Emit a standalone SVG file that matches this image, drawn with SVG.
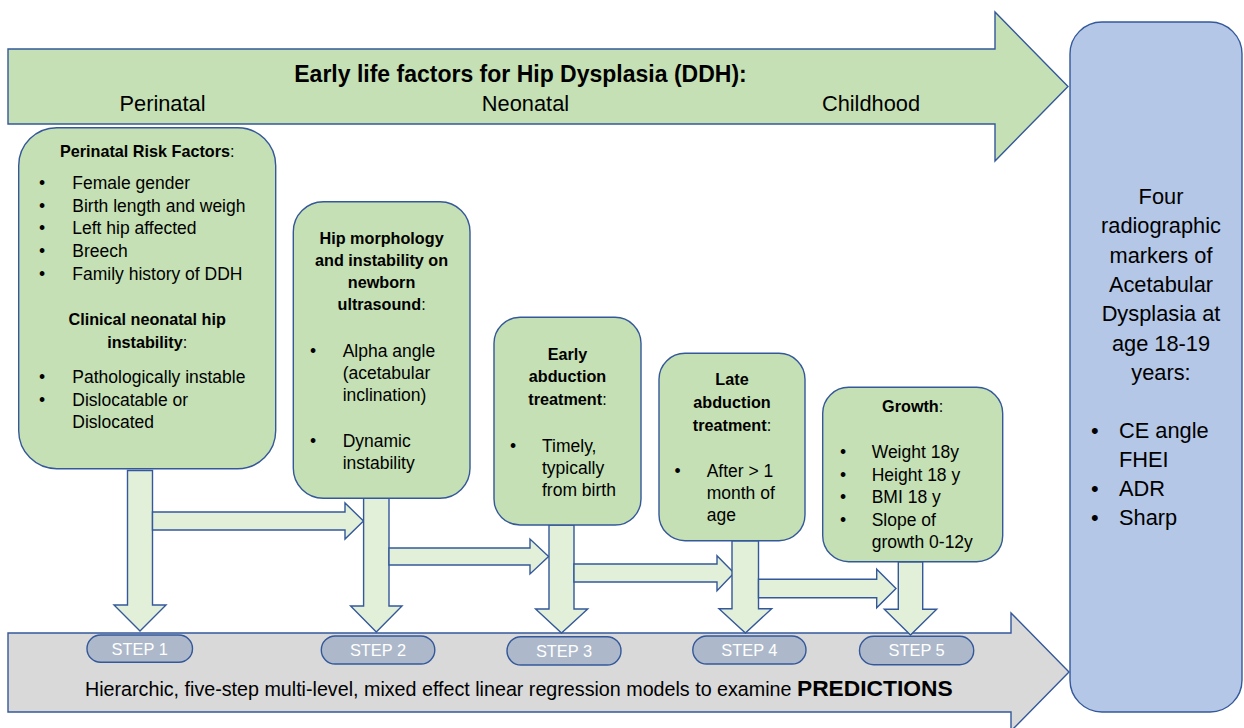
<svg xmlns="http://www.w3.org/2000/svg" width="1244" height="728" viewBox="0 0 1244 728">
<style>
  text { font-family: "Liberation Sans", Arial, sans-serif; fill: #000; }
  .box { fill: #C5E0B4; stroke: #34589A; stroke-width: 1.4; }
  .conn { fill: #E2F0D9; stroke: #34589A; stroke-width: 1.4; stroke-linejoin: miter; }
  .pill { fill: #ADB9CA; stroke: #34589A; stroke-width: 1.4; }
  .steptxt { font-size: 16.4px; fill: #FFFFFF; text-anchor: middle; }
  .hd { font-size: 16.2px; font-weight: bold; text-anchor: middle; }
  .reg { font-weight: normal; }
  .bt { font-size: 17.5px; }
  .sub { font-size: 21.8px; text-anchor: middle; }
  .rb { font-size: 21.8px; }
</style>

<g id="timeline-arrow">
  <polygon points="8,49 995,49 995,12 1068,86.5 995,161 995,124 8,124" fill="#C5E0B4" stroke="#34589A" stroke-width="1.4"/>
  <text x="520.5" y="82" font-size="23px" font-weight="bold" text-anchor="middle">Early life factors for Hip Dysplasia (DDH):</text>
  <text class="sub" x="162.5" y="111">Perinatal</text>
  <text class="sub" x="525.5" y="111">Neonatal</text>
  <text class="sub" x="871" y="111">Childhood</text>
</g>

<g id="predictions-arrow">
  <polygon points="8,633 1011,633 1011,613 1069,672 1011,731 1011,712 8,712" fill="#D9D9D9" stroke="#34589A" stroke-width="1.4"/>
  <text x="85" y="696" font-size="19.7px">Hierarchic, five-step multi-level, mixed effect linear regression models to examine <tspan font-weight="bold" font-size="22.8px">PREDICTIONS</tspan></text>
</g>

<g id="outcome">
  <rect x="1070" y="22" width="172" height="690" rx="32" ry="32" fill="#B4C7E7" stroke="#34589A" stroke-width="1.4"/>
  <g class="rb" text-anchor="middle">
    <text class="rb" x="1161" y="204" text-anchor="middle">Four</text>
    <text class="rb" x="1161" y="233.3" text-anchor="middle">radiographic</text>
    <text class="rb" x="1161" y="262.6" text-anchor="middle">markers of</text>
    <text class="rb" x="1161" y="291.9" text-anchor="middle">Acetabular</text>
    <text class="rb" x="1161" y="321.2" text-anchor="middle">Dysplasia at</text>
    <text class="rb" x="1161" y="350.5" text-anchor="middle">age 18-19</text>
    <text class="rb" x="1161" y="379.8" text-anchor="middle">years:</text>
  </g>
  <text class="rb" x="1091" y="438">•</text>
  <text class="rb" x="1119" y="438">CE angle</text>
  <text class="rb" x="1119" y="467">FHEI</text>
  <text class="rb" x="1091" y="496">•</text>
  <text class="rb" x="1119" y="496">ADR</text>
  <text class="rb" x="1091" y="525">•</text>
  <text class="rb" x="1119" y="525">Sharp</text>
</g>

<g id="connectors">
  <polygon class="conn" points="127.5,470.5 152.5,470.5 152.5,605 166,605 140,631 114,605 127.5,605"/>
  <polygon class="conn" points="152.5,512 345,512 345,503 363.5,521 345,539 345,530 152.5,530"/>
  <polygon class="conn" points="363.6,498 389,498 389,606 402,606 376.3,632 350.6,606 363.6,606"/>
  <polygon class="conn" points="389,548 530,548 530,539 548.6,556.5 530,574 530,565 389,565"/>
  <polygon class="conn" points="549,525 574,525 574,609 587.7,609 561.5,633 535.6,609 549,609"/>
  <polygon class="conn" points="574,564 717,564 717,555.7 734,573 717,590.7 717,582 574,582"/>
  <polygon class="conn" points="732,540.7 758.5,540.7 758.5,608.7 771.7,608.7 745.4,633 719,608.7 732,608.7"/>
  <polygon class="conn" points="758.5,579.3 876.7,579.3 876.7,569.3 896,588.5 876.7,607.7 876.7,597.7 758.5,597.7"/>
  <polygon class="conn" points="898.3,561.7 922.7,561.7 922.7,609.3 936.7,609.3 910.5,635 884.3,609.3 898.3,609.3"/>
</g>

<g id="perinatal">
  <rect class="box" x="18.7" y="127.7" width="257" height="341" rx="38" ry="38"/>
  <text class="hd" x="147.2" y="157">Perinatal Risk Factors<tspan class="reg">:</tspan></text>
  <g class="bt">
    <text class="bt" x="39" y="189">•</text><text class="bt" x="72.3" y="189">Female gender</text>
    <text class="bt" x="39" y="211.7">•</text><text class="bt" x="72.3" y="211.7">Birth length and weigh</text>
    <text class="bt" x="39" y="234.3">•</text><text class="bt" x="72.3" y="234.3">Left hip affected</text>
    <text class="bt" x="39" y="257">•</text><text class="bt" x="72.3" y="257">Breech</text>
    <text class="bt" x="39" y="279.7">•</text><text class="bt" x="72.3" y="279.7">Family history of DDH</text>
  </g>
  <text class="hd" x="147.2" y="325">Clinical neonatal hip</text>
  <text class="hd" x="147.2" y="347.7">instability<tspan class="reg">:</tspan></text>
  <text class="bt" x="39" y="383.3">•</text><text class="bt" x="72.3" y="383.3">Pathologically instable</text>
  <text class="bt" x="39" y="405.7">•</text><text class="bt" x="72.3" y="405.7">Dislocatable or</text>
  <text class="bt" x="72.3" y="428.3">Dislocated</text>
</g>

<g id="ultrasound">
  <rect class="box" x="293.3" y="201.7" width="176.7" height="296.6" rx="30" ry="30"/>
  <text class="hd" x="381.6" y="244">Hip morphology</text>
  <text class="hd" x="381.6" y="266">and instability on</text>
  <text class="hd" x="381.6" y="288">newborn</text>
  <text class="hd" x="381.6" y="310">ultrasound<tspan class="reg">:</tspan></text>
  <text class="bt" x="310" y="356.7">•</text><text class="bt" x="342.7" y="356.7">Alpha angle</text>
  <text class="bt" x="342.7" y="379">(acetabular</text>
  <text class="bt" x="342.7" y="401">inclination)</text>
  <text class="bt" x="310" y="447.3">•</text><text class="bt" x="342.7" y="447.3">Dynamic</text>
  <text class="bt" x="342.7" y="469.3">instability</text>
</g>

<g id="early-treatment">
  <rect class="box" x="494" y="317.3" width="147" height="207.7" rx="26" ry="26"/>
  <text class="hd" x="567.5" y="360">Early</text>
  <text class="hd" x="567.5" y="382.3">abduction</text>
  <text class="hd" x="567.5" y="405">treatment<tspan class="reg">:</tspan></text>
  <text class="bt" x="510" y="451.7">•</text><text class="bt" x="542" y="451.7">Timely,</text>
  <text class="bt" x="542" y="473.5">typically</text>
  <text class="bt" x="542" y="495.7">from birth</text>
</g>

<g id="late-treatment">
  <rect class="box" x="659" y="353.3" width="146" height="187.4" rx="26" ry="26"/>
  <text class="hd" x="732" y="385">Late</text>
  <text class="hd" x="732" y="408.3">abduction</text>
  <text class="hd" x="732" y="430.7">treatment<tspan class="reg">:</tspan></text>
  <text class="bt" x="674.5" y="476.7">•</text><text class="bt" x="706.7" y="476.7">After &gt; 1</text>
  <text class="bt" x="706.7" y="499">month of</text>
  <text class="bt" x="706.7" y="521">age</text>
</g>

<g id="growth">
  <rect class="box" x="822.7" y="387.3" width="180" height="174.4" rx="26" ry="26"/>
  <text class="hd" x="912.7" y="412.3">Growth<tspan class="reg">:</tspan></text>
  <text class="bt" x="840" y="458.3">•</text><text class="bt" x="871.7" y="458.3">Weight 18y</text>
  <text class="bt" x="840" y="480.7">•</text><text class="bt" x="871.7" y="480.7">Height 18 y</text>
  <text class="bt" x="840" y="503.3">•</text><text class="bt" x="871.7" y="503.3">BMI 18 y</text>
  <text class="bt" x="840" y="526">•</text><text class="bt" x="871.7" y="526">Slope of</text>
  <text class="bt" x="871.7" y="548.3">growth 0-12y</text>
</g>

<g id="step1">
  <rect class="pill" x="87" y="635" width="105.5" height="27.3" rx="13.6" ry="13.6"/>
  <text class="steptxt" x="139.7" y="654.5">STEP 1</text>
</g>
<g id="step2">
  <rect class="pill" x="321.3" y="636" width="113.5" height="28" rx="14" ry="14"/>
  <text class="steptxt" x="378" y="656">STEP 2</text>
</g>
<g id="step3">
  <rect class="pill" x="507" y="636.7" width="114" height="28.3" rx="14" ry="14"/>
  <text class="steptxt" x="564" y="656.8">STEP 3</text>
</g>
<g id="step4">
  <rect class="pill" x="692.8" y="636" width="113.2" height="28" rx="14" ry="14"/>
  <text class="steptxt" x="749.4" y="656">STEP 4</text>
</g>
<g id="step5">
  <rect class="pill" x="859.5" y="636.3" width="114.2" height="28.4" rx="14" ry="14"/>
  <text class="steptxt" x="916.6" y="656.4">STEP 5</text>
</g>
</svg>
